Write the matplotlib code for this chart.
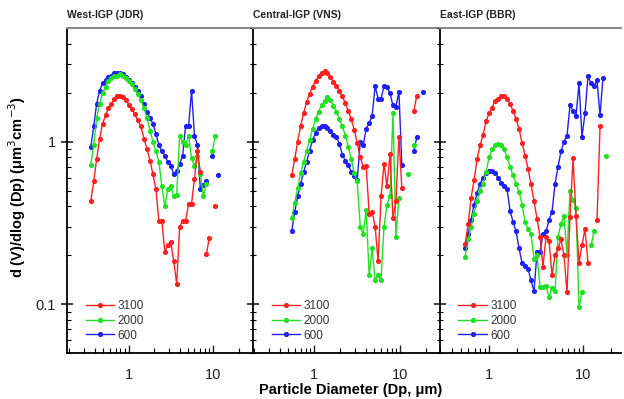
import numpy as np
import matplotlib.pyplot as plt
from matplotlib.ticker import FixedLocator, FixedFormatter, LogLocator, NullFormatter
from matplotlib.lines import Line2D

plt.rcParams['font.family'] = ['Liberation Sans', 'DejaVu Sans']

nan = np.nan

# === West-IGP (JDR) ===
west_dp = [0.357, 0.387, 0.419, 0.454, 0.492, 0.534, 0.578, 0.627, 0.680, 0.737, 0.799,
           0.866, 0.938, 1.017, 1.10, 1.19, 1.29, 1.40, 1.52, 1.65, 1.79, 1.94, 2.10,
           2.28, 2.47, 2.68, 2.90, 3.15, 3.41, 3.70, 4.01, 4.35, 4.71, 5.11, 5.54, 6.0,
           6.5, 7.05, 7.65, 8.29, 8.98, 9.74, 10.6, 11.4]
west_3100 = [0.43, 0.57, 0.78, 1.04, 1.29, 1.45, 1.6, 1.71, 1.82, 1.9, 1.92, 1.87, 1.79,
             1.67, 1.58, 1.47, 1.35, 1.24, 1.04, 0.9, 0.76, 0.63, 0.51, 0.325, 0.325, 0.21,
             0.23, 0.24, 0.184, 0.133, 0.3, 0.325, 0.325, 0.415, 0.415, 0.59, 0.87, 0.65,
             nan, 0.203, 0.255, nan, 0.40, nan]
west_2000 = [0.72, 0.95, 1.39, 1.71, 1.98, 2.18, 2.35, 2.45, 2.52, 2.55, 2.59, 2.52, 2.45,
             2.35, 2.25, 2.12, 1.95, 1.79, 1.6, 1.39, 1.17, 1.0, 0.87, 0.75, 0.53, 0.40,
             0.51, 0.53, 0.46, 0.47, 1.09, 1.0, 0.95, 1.09, 0.79, 0.71, 0.81, 0.63, 0.46,
             0.55, nan, 0.87, 1.09, nan]
west_600 = [0.92, 1.24, 1.71, 2.06, 2.28, 2.38, 2.48, 2.55, 2.63, 2.66, 2.66, 2.59, 2.48,
            2.38, 2.28, 2.18, 2.06, 1.92, 1.71, 1.53, 1.39, 1.29, 1.12, 0.95, 0.87, 0.82,
            0.75, 0.71, 0.63, 0.66, 0.73, 0.82, 1.25, 1.24, 2.06, 1.09, 0.95, 0.51, 0.54,
            0.57, nan, 0.81, nan, 0.62]

# === Central-IGP (VNS) ===
central_dp = [0.55, 0.596, 0.645, 0.699, 0.757, 0.82, 0.888, 0.962, 1.042, 1.128, 1.222,
              1.324, 1.434, 1.553, 1.682, 1.822, 1.973, 2.137, 2.314, 2.506, 2.714, 2.94,
              3.18, 3.45, 3.73, 4.04, 4.38, 4.74, 5.14, 5.56, 6.02, 6.52, 7.06, 7.65, 8.28,
              8.97, 9.72, 10.5, 11.4, 12.3, 13.4, 14.5, 15.7, 17.0, 18.4]
central_3100 = [0.62, 0.78, 1.0, 1.25, 1.5, 1.75, 1.97, 2.17, 2.37, 2.53, 2.66, 2.72, 2.66,
                2.5, 2.33, 2.2, 2.05, 1.9, 1.72, 1.55, 1.37, 1.18, 0.98, 0.8, 0.7, 0.71,
                0.36, 0.37, 0.30, 0.184, 0.46, 0.73, 0.53, 0.84, 0.34, 0.43, 1.07, 0.52,
                nan, nan, nan, 1.55, 1.92, nan, nan]
central_2000 = [0.34, 0.42, 0.52, 0.64, 0.75, 0.88, 1.02, 1.2, 1.37, 1.53, 1.67, 1.77, 1.88,
                1.8, 1.66, 1.53, 1.38, 1.24, 1.09, 0.93, 0.78, 0.64, 0.57, 0.3, 0.27, 0.38,
                0.15, 0.22, 0.14, 0.15, 0.14, 0.3, 0.41, 0.46, 1.49, 0.26, 0.45, nan, nan,
                0.63, nan, 0.95, nan, nan, nan]
central_600 = [0.28, 0.37, 0.46, 0.55, 0.65, 0.75, 0.88, 1.02, 1.13, 1.21, 1.25, 1.25, 1.22,
               1.17, 1.1, 1.07, 0.97, 0.83, 0.76, 0.72, 0.65, 0.61, 0.58, 1.0, 0.95, 1.2,
               1.3, 1.43, 2.2, 1.84, 1.84, 2.2, 2.18, 1.98, 1.67, 1.64, 2.03, 0.72, nan, nan,
               nan, 0.87, 1.07, nan, 2.03]

# === East-IGP (BBR) ===
east_dp = [0.555, 0.598, 0.643, 0.692, 0.745, 0.802, 0.863, 0.929, 1.0, 1.076, 1.158, 1.247,
           1.342, 1.444, 1.554, 1.673, 1.8, 1.937, 2.085, 2.244, 2.415, 2.6, 2.79, 3.01,
           3.24, 3.49, 3.75, 4.04, 4.35, 4.68, 5.04, 5.42, 5.83, 6.28, 6.76, 7.27, 7.83,
           8.42, 9.07, 9.76, 10.5, 11.3, 12.2, 13.1, 14.1, 15.2, 16.3, 17.6]
east_3100 = [0.235, 0.31, 0.45, 0.58, 0.78, 0.95, 1.1, 1.33, 1.5, 1.62, 1.77, 1.84, 1.9, 1.9,
             1.83, 1.7, 1.55, 1.38, 1.2, 0.98, 0.82, 0.68, 0.55, 0.43, 0.335, 0.26, 0.17,
             0.26, 0.245, 0.15, 0.2, 0.22, 0.25, 0.2, 0.118, 0.345, 0.79, 0.35, 0.18, 0.23,
             0.29, 0.18, nan, nan, 0.33, 1.25, nan, nan]
east_2000 = [0.195, 0.25, 0.3, 0.36, 0.43, 0.5, 0.55, 0.65, 0.8, 0.9, 0.95, 0.97, 0.95, 0.9,
             0.8, 0.7, 0.62, 0.55, 0.49, 0.41, 0.32, 0.29, 0.27, 0.19, 0.2, 0.127, 0.128,
             0.13, 0.11, 0.125, 0.12, 0.26, 0.31, 0.35, 0.2, 0.5, 0.44, 0.39, 0.096, 0.118,
             nan, nan, 0.23, 0.28, nan, nan, nan, 0.82]
east_600 = [0.22, 0.27, 0.33, 0.41, 0.48, 0.55, 0.6, 0.64, 0.66, 0.66, 0.64, 0.6, 0.56, 0.53,
            0.51, 0.375, 0.32, 0.28, 0.22, 0.18, 0.172, 0.165, 0.14, 0.12, 0.21, 0.21, 0.27,
            0.28, 0.33, 0.37, 0.55, 0.7, 0.87, 1.0, 1.09, 1.67, 1.55, 1.43, 2.28, 1.07, 1.49,
            2.52, 2.28, 2.2, 2.38, 1.45, 2.45, nan]

titles = ['West-IGP (JDR)', 'Central-IGP (VNS)', 'East-IGP (BBR)']
labels = ['3100', '2000', '600']
colors = ['#ff2020', '#22e022', '#2020f0']

panels = [
    (west_dp, [west_3100, west_2000, west_600]),
    (central_dp, [central_3100, central_2000, central_600]),
    (east_dp, [east_3100, east_2000, east_600]),
]

# === Layout (pixel boxes) ===
W, H = 624, 399
x_edges = [(67, 253), (253, 440), (440, 621)]
top_px, bot_px = 28, 353
xlims = [(0.187, 29.5), (0.195, 29.2), (0.30, 25.4)]

fig = plt.figure(figsize=(6.24, 3.99), dpi=100)

for i, (dp, series) in enumerate(panels):
    x0, x1 = x_edges[i]
    ax = fig.add_axes([x0 / W, (H - bot_px) / H, (x1 - x0) / W, (bot_px - top_px) / H])

    # draw blue first so red sits on top
    for vals, c in reversed(list(zip(series, colors))):
        ax.plot(dp, vals, color=c, marker='o', markersize=2.7, linewidth=1)

    ax.set_xscale('log')
    ax.set_yscale('log')
    ax.set_xlim(*xlims[i])
    ax.set_ylim(0.05, 5)

    ax.xaxis.set_major_locator(FixedLocator([1, 10]))
    ax.xaxis.set_major_formatter(FixedFormatter(['1', '10']))
    ax.xaxis.set_minor_locator(LogLocator(base=10, subs=np.arange(2, 10)))
    ax.xaxis.set_minor_formatter(NullFormatter())
    ax.yaxis.set_major_locator(FixedLocator([0.1, 1]))
    ax.yaxis.set_major_formatter(FixedFormatter(['0.1', '1']))
    ax.yaxis.set_minor_locator(LogLocator(base=10, subs=np.arange(2, 10)))
    ax.yaxis.set_minor_formatter(NullFormatter())

    ax.tick_params(axis='x', which='major', direction='in', length=6, width=1,
                   labelsize=10.5, pad=11, colors='#222222')
    ax.tick_params(axis='x', which='minor', direction='in', length=3.5, width=0.8)
    ax.tick_params(axis='y', which='major', direction='inout', length=9, width=1.2,
                   labelsize=10.5, colors='#222222')
    ax.tick_params(axis='y', which='minor', direction='inout' if i else 'in',
                   length=5 if i else 3, width=0.8)
    if i > 0:
        ax.tick_params(axis='y', labelleft=False)

    ax.spines['right'].set_visible(False)
    ax.spines['top'].set_color('#8a8a8a')
    ax.spines['top'].set_linewidth(1.5)
    ax.spines['left'].set_linewidth(1.3)
    ax.spines['bottom'].set_linewidth(1.3)

    ax.text(0, 1.025, titles[i], transform=ax.transAxes, ha='left', va='bottom',
            fontsize=7.5, fontweight='bold', color='#222222')

    handles = [Line2D([], [], color=c, marker='o', markersize=2.7, linewidth=1) for c in colors]
    ax.legend(handles, labels, loc='lower left', bbox_to_anchor=(0.05, 0.006),
              frameon=False, fontsize=8.5, handlelength=2.4, handletextpad=0.3,
              labelspacing=0.22, borderpad=0.3, numpoints=1, labelcolor='#333333')

fig.text(0.027, 0.531, 'd (V)/dlog (Dp) (\u03bcm$^3$cm$^{-3}$)', rotation=90,
         ha='center', va='center', fontsize=10.5, fontweight='bold')
fig.text(0.562, 0.022, 'Particle Diameter (Dp, \u03bcm)', ha='center', va='center',
         fontsize=10.5, fontweight='bold')

fig.savefig('out.png', dpi=100)
